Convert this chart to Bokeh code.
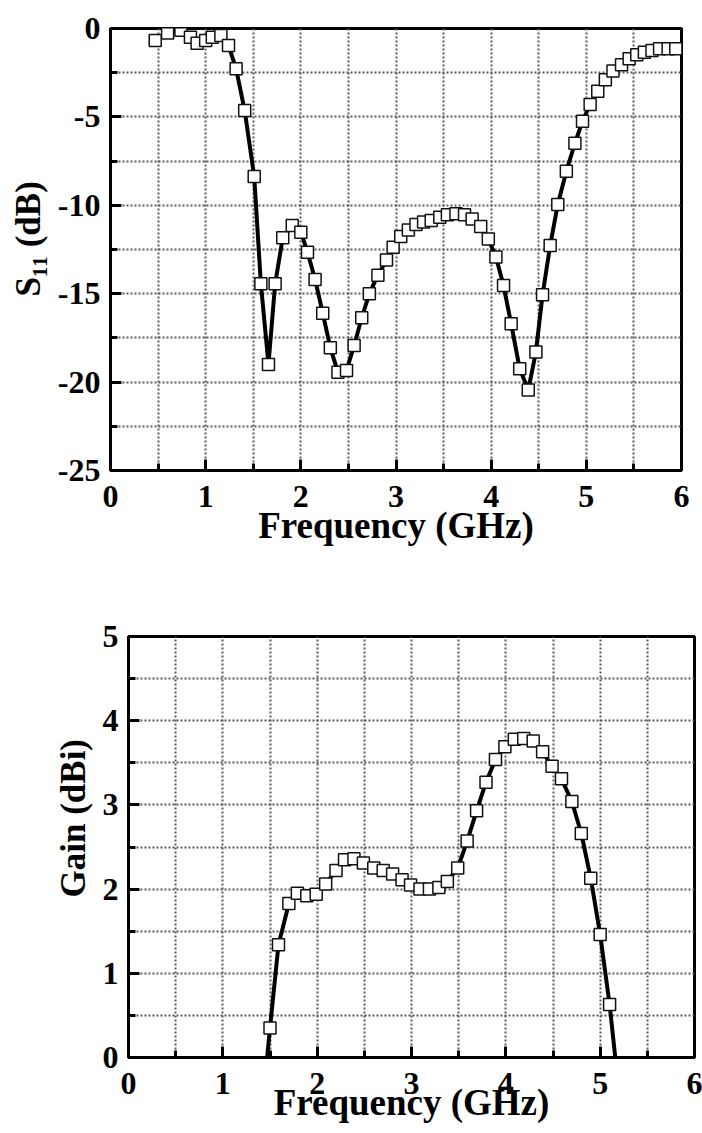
import numpy as np
from bokeh.plotting import figure
from bokeh.models import Range1d, SingleIntervalTicker, FixedTicker, PrintfTickFormatter, Title
from bokeh.embed import file_html
from bokeh.resources import INLINE

# ---------------- data ----------------
s11_freq = [0.47, 0.60, 0.74, 0.84, 0.91, 1.00, 1.07, 1.16, 1.24, 1.32, 1.41, 1.51,
            1.58, 1.66, 1.73, 1.81, 1.91, 2.00, 2.07, 2.15, 2.23, 2.31, 2.39, 2.48,
            2.56, 2.64, 2.72, 2.81, 2.90, 2.97, 3.05, 3.13, 3.21, 3.29, 3.37, 3.46,
            3.54, 3.63, 3.72, 3.80, 3.89, 3.97, 4.05, 4.13, 4.21, 4.30, 4.39, 4.47,
            4.54, 4.62, 4.70, 4.79, 4.88, 4.96, 5.04, 5.12, 5.20, 5.28, 5.37, 5.45,
            5.53, 5.61, 5.69, 5.77, 5.86, 5.94]
s11_db = [-0.68, -0.25, -0.10, -0.50, -0.83, -0.68, -0.50, -0.40, -0.96, -2.28, -4.64, -8.37,
          -14.44, -19.00, -14.44, -11.84, -11.14, -11.52, -12.65, -14.20, -16.10, -18.06, -19.44, -19.34,
          -17.93, -16.36, -15.00, -13.95, -13.10, -12.37, -11.76, -11.39, -11.09, -10.95, -10.86, -10.67,
          -10.54, -10.48, -10.54, -10.77, -11.20, -11.90, -12.93, -14.54, -16.70, -19.25, -20.44, -18.30,
          -15.06, -12.27, -9.95, -8.07, -6.49, -5.24, -4.30, -3.55, -2.90, -2.41, -2.05, -1.71,
          -1.49, -1.34, -1.24, -1.15, -1.15, -1.15]

gain_freq = [1.50, 1.59, 1.70, 1.79, 1.89, 1.99, 2.09, 2.20, 2.29, 2.39, 2.49, 2.60,
             2.70, 2.80, 2.90, 2.99, 3.09, 3.19, 3.29, 3.38, 3.49, 3.59, 3.69, 3.79,
             3.89, 3.99, 4.09, 4.19, 4.29, 4.39, 4.49, 4.59, 4.70, 4.80, 4.90, 5.00, 5.10]
gain_dbi = [0.35, 1.34, 1.83, 1.95, 1.92, 1.94, 2.06, 2.22, 2.35, 2.36, 2.31, 2.25,
            2.22, 2.18, 2.11, 2.05, 2.00, 2.00, 2.02, 2.09, 2.25, 2.57, 2.93, 3.27,
            3.54, 3.69, 3.78, 3.79, 3.76, 3.63, 3.46, 3.31, 3.04, 2.66, 2.13, 1.46, 0.63]
# where the solid curve meets the 0 dBi axis
gain_line_start = (1.47, 0.0)
gain_line_end = (5.16, 0.0)

x_title = "Frequency (GHz)"
s11_title = "S\u2081\u2081 (dB)"
gain_title = "Gain (dBi)"

FONT = "Liberation Serif"


def style(p, y_interval, x_grid_major, x_grid_minor, y_grid_major, y_grid_minor,
          x_label_standoff):
    p.background_fill_color = "white"
    p.border_fill_color = "white"
    p.outline_line_color = "black"
    p.outline_line_width = 3
    p.outline_line_alpha = 1.0

    p.xaxis.ticker = SingleIntervalTicker(interval=1, num_minor_ticks=2)
    p.yaxis.ticker = SingleIntervalTicker(interval=y_interval, num_minor_ticks=2)
    p.xaxis.formatter = PrintfTickFormatter(format="%d")
    p.yaxis.formatter = PrintfTickFormatter(format="%d")

    for ax in (p.xaxis[0], p.yaxis[0]):
        ax.axis_line_color = "black"
        ax.axis_line_width = 3
        ax.major_tick_line_color = "black"
        ax.major_tick_line_width = 3
        ax.minor_tick_line_color = "black"
        ax.minor_tick_line_width = 3
        ax.major_tick_in = 11
        ax.major_tick_out = 0
        ax.minor_tick_in = 7
        ax.minor_tick_out = 0
        ax.major_label_text_font = FONT
        ax.major_label_text_font_style = "bold"
        ax.major_label_text_font_size = "32px"
        ax.major_label_text_color = "black"
        ax.axis_label_text_font = FONT
        ax.axis_label_text_font_style = "bold"
        ax.axis_label_text_color = "black"
    p.xaxis.major_label_standoff = 15
    p.yaxis.major_label_standoff = 10
    p.xaxis.axis_label_text_font_size = "37px"
    p.xaxis.axis_label_standoff = x_label_standoff

    p.xgrid.ticker = FixedTicker(ticks=x_grid_major, minor_ticks=x_grid_minor)
    p.ygrid.ticker = FixedTicker(ticks=y_grid_major, minor_ticks=y_grid_minor)
    for g in (p.xgrid[0], p.ygrid[0]):
        g.grid_line_color = "#5a5a5a"
        g.grid_line_width = 2
        g.grid_line_dash = "2 2"
        g.minor_grid_line_color = "#5a5a5a"
        g.minor_grid_line_width = 2
        g.minor_grid_line_dash = "2 2"


def y_title(p, text, offset, standoff):
    t = Title(text=text, align="left", vertical_align="middle", offset=offset,
              standoff=standoff, text_font=FONT, text_font_style="bold",
              text_font_size="35px", text_color="black")
    p.add_layout(t, "left")


xg_major = list(np.arange(1, 6, 1.0))
xg_minor = list(np.arange(0.5, 6.0, 1.0))

# ---------------- top plot: S11 ----------------
p1 = figure(width=702, height=580, output_backend="svg", toolbar_location=None,
            x_range=Range1d(0, 6), y_range=Range1d(-25, 0),
            x_axis_label=x_title,
            min_border_left=110, min_border_right=21, min_border_top=28, min_border_bottom=110)
style(p1, 5, xg_major, xg_minor,
      list(np.arange(-20, 0, 5.0)), list(np.arange(-22.5, 0, 5.0)), -5)
y_title(p1, s11_title, 174, 11)

p1.line(s11_freq, s11_db, line_color="black", line_width=4)
p1.scatter(s11_freq, s11_db, marker="square", size=12, fill_color="white",
           line_color="#111111", line_width=1.5)

# ---------------- bottom plot: Gain ----------------
p2 = figure(width=702, height=553, output_backend="svg", toolbar_location=None,
            x_range=Range1d(0, 6), y_range=Range1d(0, 5),
            x_axis_label=x_title,
            min_border_left=128, min_border_right=8, min_border_top=56, min_border_bottom=76)
style(p2, 1, xg_major, xg_minor,
      list(np.arange(1, 5, 1.0)), list(np.arange(0.5, 5.0, 1.0)), -15)
y_title(p2, gain_title, 160, 11)

line_x = [gain_line_start[0]] + gain_freq + [gain_line_end[0]]
line_y = [gain_line_start[1]] + gain_dbi + [gain_line_end[1]]
p2.line(line_x, line_y, line_color="black", line_width=4)
p2.scatter(gain_freq, gain_dbi, marker="square", size=12, fill_color="white",
           line_color="#111111", line_width=1.5)

open("out.html", "w").write(file_html([p1, p2], INLINE))
